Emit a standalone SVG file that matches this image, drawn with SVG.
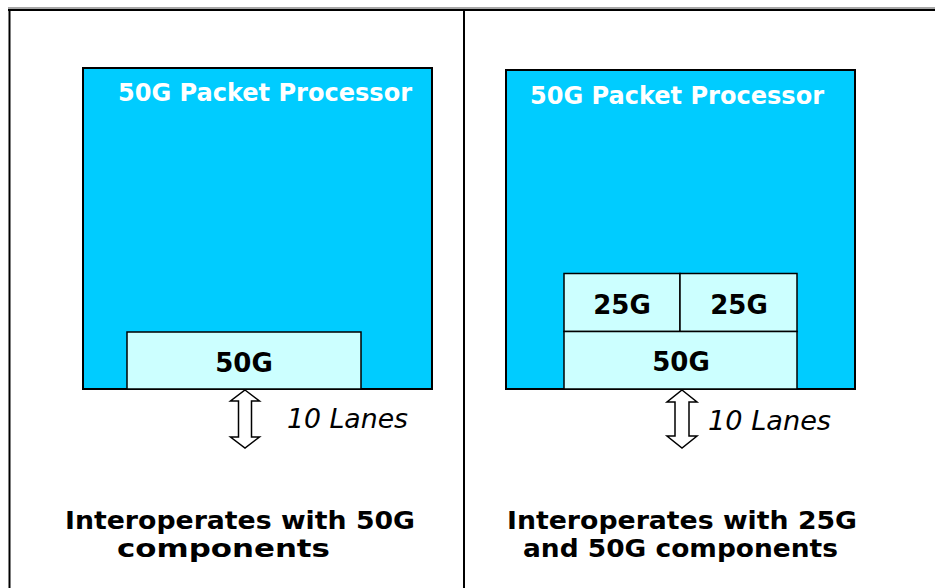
<svg xmlns="http://www.w3.org/2000/svg" width="935" height="588" viewBox="0 0 935 588">
<style>
.frame{stroke:#000;stroke-width:2;fill:none}
.chip{fill:#00CCFF;stroke:#000;stroke-width:2}
.blk{fill:#CCFFFF;stroke:#000;stroke-width:1.5}
.title{font-family:"DejaVu Sans",Verdana,sans-serif;font-weight:bold;font-size:24px;fill:#fff}
.lbl{font-family:"DejaVu Sans",Verdana,sans-serif;font-weight:bold;font-size:26px;fill:#000;text-anchor:middle}
.lane{font-family:"DejaVu Sans",Verdana,sans-serif;font-style:italic;font-size:26px;fill:#000}
.cap{font-family:"DejaVu Sans",Verdana,sans-serif;font-weight:bold;font-size:24px;fill:#000}
.arrow{fill:#fff;stroke:#000;stroke-width:1.5;stroke-linejoin:miter}
</style>
<rect width="935" height="588" fill="#fff"/>
<g id="frame">
<line x1="8" y1="8" x2="935" y2="8" stroke="#888" stroke-width="1.5"/>
<line x1="8" y1="10" x2="935" y2="10" class="frame"/>
<line x1="9.5" y1="9" x2="9.5" y2="588" class="frame"/>
<line x1="464" y1="10" x2="464" y2="588" class="frame"/>
</g>
<g id="left-processor">
<rect x="83" y="68" width="349" height="321" class="chip"/>
<text x="118" y="101" class="title" textLength="294" lengthAdjust="spacingAndGlyphs">50G Packet Processor</text>
</g>
<g id="left-50g">
<rect x="127" y="332" width="234" height="57" class="blk"/>
<text x="244" y="372" class="lbl">50G</text>
</g>
<g id="right-processor">
<rect x="506" y="70" width="349" height="319" class="chip"/>
<text x="530" y="104" class="title" textLength="294" lengthAdjust="spacingAndGlyphs">50G Packet Processor</text>
</g>
<g id="right-25g-a">
<rect x="564" y="273.5" width="116" height="58" class="blk"/>
<text x="622" y="314" class="lbl">25G</text>
</g>
<g id="right-25g-b">
<rect x="680" y="273.5" width="117" height="58" class="blk"/>
<text x="739" y="314" class="lbl">25G</text>
</g>
<g id="right-50g">
<rect x="564" y="331.5" width="233" height="57.5" class="blk"/>
<text x="681" y="371" class="lbl">50G</text>
</g>
<g id="connectors">
<path class="arrow" d="M245,390 L259.5,401 L251.5,401 L251.5,437 L259.5,437 L245,448 L230.5,437 L238.5,437 L238.5,401 L230.5,401 Z"/>
<path class="arrow" d="M682,390 L697,402 L689,402 L689,436 L697,436 L682,448 L667,436 L675,436 L675,402 L667,402 Z"/>
</g>
<g id="labels">
<text x="287" y="428" class="lane" textLength="121" lengthAdjust="spacingAndGlyphs">10 Lanes</text>
<text x="708" y="430" class="lane" textLength="123" lengthAdjust="spacingAndGlyphs">10 Lanes</text>
<text x="65" y="529" class="cap" textLength="350" lengthAdjust="spacingAndGlyphs">Interoperates with 50G</text>
<text x="117" y="557" class="cap" textLength="213" lengthAdjust="spacingAndGlyphs">components</text>
<text x="507" y="529" class="cap" textLength="350" lengthAdjust="spacingAndGlyphs">Interoperates with 25G</text>
<text x="523" y="557" class="cap" textLength="315" lengthAdjust="spacingAndGlyphs">and 50G components</text>
</g>
</svg>
